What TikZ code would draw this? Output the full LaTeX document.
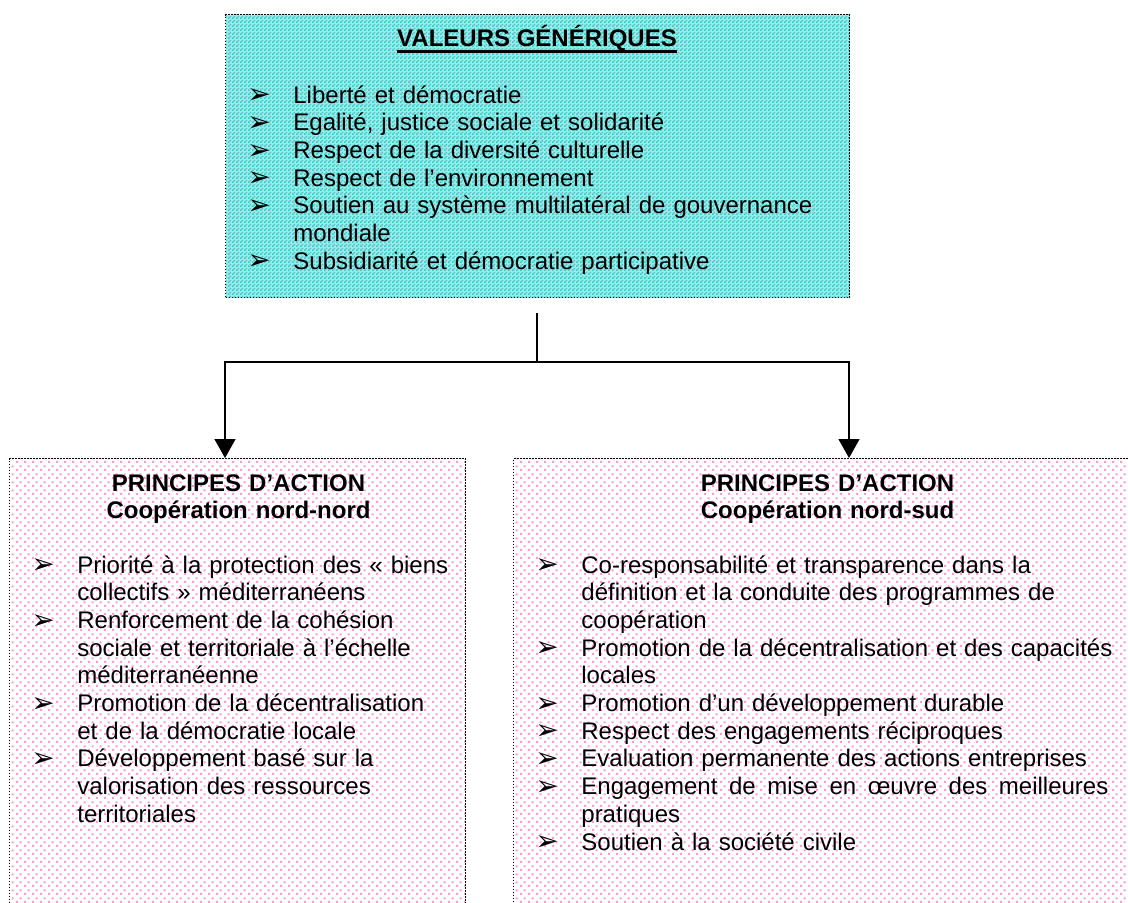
\documentclass[tikz,border=0pt]{standalone}
\usepackage{fontspec}
\setmainfont{Liberation Sans}
\newfontfamily\dejavu{DejaVu Sans}
\usetikzlibrary{arrows.meta,patterns}
\definecolor{turq}{RGB}{51,204,204}
\definecolor{rose}{RGB}{255,153,204}
\pgfdeclarepatternformonly{cychecker}{\pgfpointorigin}{\pgfpoint{2pt}{2pt}}{\pgfpoint{2pt}{2pt}}{%
 \pgfpathrectangle{\pgfpointorigin}{\pgfpoint{1pt}{1pt}}%
 \pgfpathrectangle{\pgfpoint{1pt}{1pt}}{\pgfpoint{1pt}{1pt}}%
 \pgfusepath{fill}}
\pgfdeclarepatternformonly{pinkdots}{\pgfpointorigin}{\pgfpoint{4pt}{4pt}}{\pgfpoint{4pt}{4pt}}{%
 \pgfpathrectangle{\pgfpointorigin}{\pgfpoint{1.2pt}{1.2pt}}%
 \pgfpathrectangle{\pgfpoint{2pt}{2pt}}{\pgfpoint{1.2pt}{1.2pt}}%
 \pgfusepath{fill}}
\newcommand\bul{\makebox[23pt][l]{\raisebox{-0.3pt}{\dejavu\fontsize{14}{14}\selectfont ➢}}}
\newcommand\cnt{\hspace*{23pt}}
\begin{document}
\begin{tikzpicture}[x=0.5pt,y=-0.5pt,
  dotbox/.style={draw=black, line width=0.6pt, dash pattern=on 0.6pt off 0.9pt,
    rectangle, inner sep=0pt, anchor=north west},
  cybox/.style={dotbox, preaction={fill=turq!45}, pattern=cychecker, pattern color=turq},
  pkbox/.style={dotbox, pattern=pinkdots, pattern color=rose},
  lst/.style={anchor=base west, inner sep=0pt, text width=#1, align=left,
    font=\fontsize{12}{13.85}\selectfont},
  ttlbox/.style={anchor=base, inner sep=0pt, text width=#1, align=center,
    font=\fontsize{12}{13.85}\selectfont\bfseries},
  conn/.style={draw=black, line width=0.7pt},
  arr/.style={conn, -{Triangle[width=10.5pt,length=9.5pt]}}]
\useasboundingbox (0,0) rectangle (1128,902);
\clip (0,0) rectangle (1128,902);
% boxes
\node[cybox, minimum width=312pt, minimum height=141.5pt] (top) at (225,14) {};
\node[pkbox, minimum width=228pt, minimum height=230pt] (leftbox) at (9,458) {};
\node[pkbox, minimum width=310pt, minimum height=230pt] (rightbox) at (513,458) {};
% top box text
\node[anchor=base, inner sep=0pt, font=\fontsize{12}{13.85}\selectfont\bfseries] (ttl) at (537,46) {VALEURS GÉNÉRIQUES};
\draw[line width=1.3pt] ([yshift=-2.6pt]ttl.base west) -- ([yshift=-2.6pt]ttl.base east);
\node[lst=320pt] (tlist) at (247,103) {%
\bul Liberté et démocratie\\
\bul Egalité, justice sociale et solidarité\\
\bul Respect de la diversité culturelle\\
\bul Respect de l’environnement\\
\bul Soutien au système multilatéral de gouvernance\\
\cnt mondiale\\
\bul Subsidiarité et démocratie participative};
% left box text
\node[ttlbox=220pt] (lttl) at (238.5,491) {PRINCIPES D’ACTION\\Coopération nord-nord};
\node[lst=250pt] (llist) at (31,573) {%
\bul Priorité à la protection des «~biens\\
\cnt collectifs~» méditerranéens\\
\bul Renforcement de la cohésion\\
\cnt sociale et territoriale à l’échelle\\
\cnt méditerranéenne\\
\bul Promotion de la décentralisation\\
\cnt et de la démocratie locale\\
\bul Développement basé sur la\\
\cnt valorisation des ressources\\
\cnt territoriales};
% right box text
\node[ttlbox=220pt] (rttl) at (827.5,491) {PRINCIPES D’ACTION\\Coopération nord-sud};
\node[lst=300pt] (rlist) at (535,573) {%
\bul Co-responsabilité et transparence dans la\\
\cnt définition et la conduite des programmes de\\
\cnt coopération\\
\bul Promotion de la décentralisation et des capacités\\
\cnt locales\\
\bul Promotion d’un développement durable\\
\bul Respect des engagements réciproques\\
\bul Evaluation permanente des actions entreprises\\
\bul \hbox to 263.5pt{Engagement\hfill de\hfill mise\hfill en\hfill œuvre\hfill des\hfill meilleures}\\
\cnt pratiques\\
\bul Soutien à la société civile};
% connectors
\coordinate (stem) at (537,313);
\coordinate (jn) at (537,362);
\coordinate (lt) at (225,458);
\coordinate (rt) at (849,458);
\draw[conn] (stem) -- (jn);
\draw[arr] (jn) -| (lt);
\draw[arr] (jn) -| (rt);
\end{tikzpicture}
\end{document}
